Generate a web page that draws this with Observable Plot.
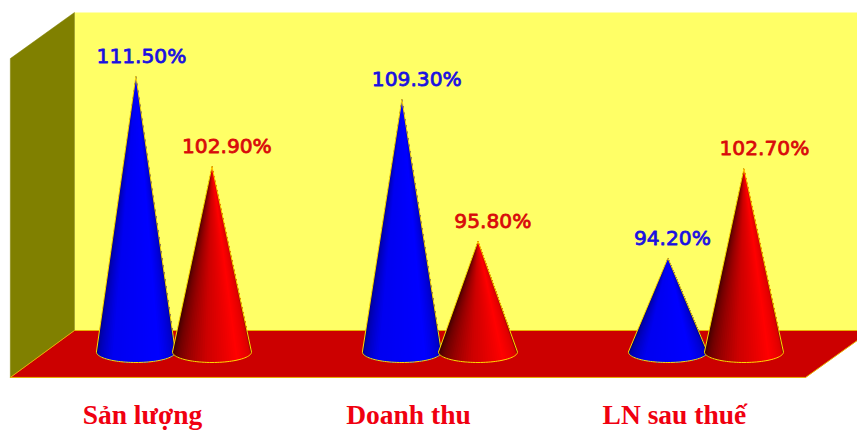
<!DOCTYPE html>
<html>
<head>
<meta charset="utf-8">
<style>
  html, body { margin: 0; padding: 0; background: #fff; overflow: hidden; }
  svg { display: block; }
</style>
<script src="https://cdn.jsdelivr.net/npm/d3@7"></script>
<script src="https://cdn.jsdelivr.net/npm/@observablehq/plot@0.6"></script>
</head>
<body>
<div id="chart"></div>
<script>
// Completion rates per indicator, two series per group.
const categories = ["Sản lượng", "Doanh thu", "LN sau thuế"];
const seriesBlue = [111.5, 109.3, 94.2];
const seriesRed = [102.9, 95.8, 102.7];

// Scale extents, in group units across and percent up.
const xDomain = [-0.654, 2.568];
const yDomain = [77.75, 118.72];
const baseValue = 85.26;
const wallTop = 117.58;
const floorBack = 87.35;
const floorFront = 82.89;
const sideLeft = -0.617;
const wallLeft = -0.376;
const floorRightFront = 2.373;
const floorRightBack = 2.62;
const sideTop = 113.2;

const rows = [];
categories.forEach((category, i) => {
  rows.push({category, series: "blue", group: i, pos: i - 0.143, value: seriesBlue[i]});
  rows.push({category, series: "red", group: i, pos: i + 0.143, value: seriesRed[i]});
});
// Horizontal nudges for the percent labels, in group units, in row order.
const labelNudge = [0.019, 0.054, 0.054, 0.054, 0.015, 0.075];
rows.forEach((r, i) => { r.labelPos = r.pos + labelNudge[i]; });

const polygon = pts => pts.map(([x, y]) => ({x, y}));
const sideWall = polygon([[sideLeft, floorFront], [wallLeft, floorBack], [wallLeft, wallTop], [sideLeft, sideTop], [sideLeft, floorFront]]);
const backWall = polygon([[wallLeft, floorBack], [floorRightBack, floorBack], [floorRightBack, wallTop], [wallLeft, wallTop], [wallLeft, floorBack]]);
const floor = polygon([[sideLeft, floorFront], [wallLeft, floorBack], [floorRightBack, floorBack], [floorRightFront, floorFront], [sideLeft, floorFront]]);

const ramps = {
  blue: d3.scaleLinear().domain([0, 0.08, 0.3, 0.7, 0.92, 1]).range(["#000040", "#0000a0", "#0000f0", "#0000ff", "#0000c0", "#000030"]),
  red: d3.scaleLinear().domain([0, 0.18, 0.45, 0.72, 0.92, 1]).range(["#2c0000", "#700000", "#cc0000", "#ff0000", "#d80000", "#300000"])
};

// Shades each cone by painting ever narrower fans from the tip, so that
// neighbouring shades overlap and leave no seams.
function cones(index, scales, values) {
  const g = d3.create("svg:g");
  const rx = 39.5, ry = 10.5, steps = 48;
  const baseY = scales.y(baseValue);
  for (const i of index) {
    const cx = values.x[i], tip = values.y[i], ramp = ramps[rows[i].series];
    const rim = d3.range(steps + 1).map(s => {
      const a = Math.PI * s / steps;
      return [cx - rx * Math.cos(a), baseY + ry * Math.sin(a)];
    });
    for (let s = 0; s < steps; s++) {
      g.append("path")
        .attr("d", `M${cx},${tip}L${rim.slice(s).join("L")}Z`)
        .attr("fill", ramp((s + 0.5) / steps));
    }
    g.append("path")
      .attr("d", `M${cx},${tip}L${rim.join("L")}Z`)
      .attr("fill", "none").attr("stroke", "#ffdc00").attr("stroke-width", 1).attr("stroke-linejoin", "round");
  }
  return g.node();
}

const chart = Plot.plot({
  width: 857,
  height: 431,
  margin: 0,
  style: {background: "#fff", overflow: "hidden"},
  x: {type: "linear", domain: xDomain, range: [0, 857], axis: null},
  y: {type: "linear", domain: yDomain, range: [431, 0], axis: null},
  marks: [
    Plot.line(backWall, {x: "x", y: "y", fill: "#ffff66", stroke: "none", curve: "linear"}),
    Plot.line(sideWall, {x: "x", y: "y", fill: "#808000", stroke: "#808000", strokeWidth: 0.5, curve: "linear"}),
    Plot.line(floor, {x: "x", y: "y", fill: "#cc0000", stroke: "#e8b000", strokeWidth: 1, curve: "linear"}),
    Plot.dot(rows, {x: "pos", y: "value", render: cones}),
    Plot.text(rows, {
      x: "labelPos", y: "value", text: d => d.value.toFixed(2) + "%",
      dy: -20, fontFamily: "DejaVu Sans", fontSize: 20.2,
      fill: d => d.series === "blue" ? "#1a10e0" : "#d80a0a",
      stroke: d => d.series === "blue" ? "#1a10e0" : "#d80a0a", strokeWidth: 0.8
    }),
    Plot.text(categories, {
      x: (d, i) => i, y: () => floorFront, text: d => d,
      dx: -32, dy: 38, fontFamily: "Liberation Serif", fontWeight: "bold", fontSize: 27.5, fill: "#f00010"
    })
  ]
});
document.getElementById("chart").append(chart);
</script>
</body>
</html>
